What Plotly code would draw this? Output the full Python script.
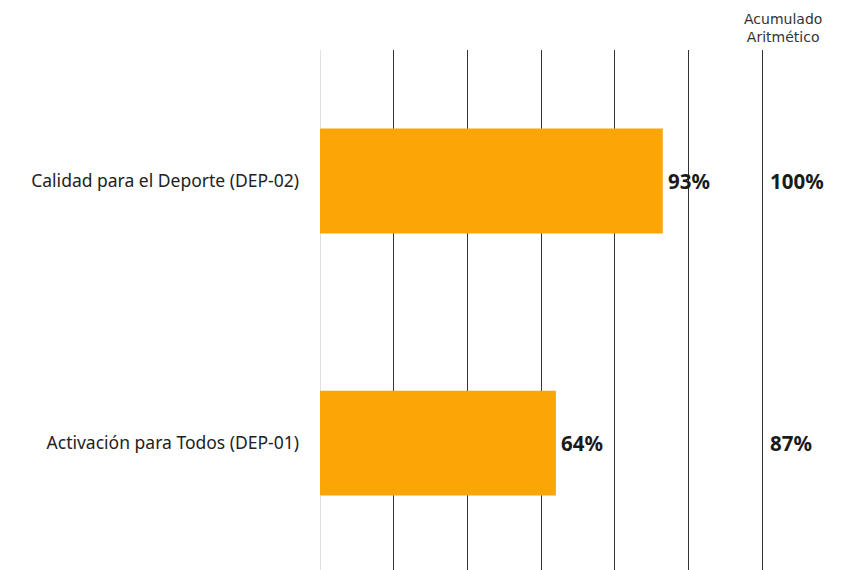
import plotly.graph_objects as go

categories = ["Activación para Todos (DEP-01)", "Calidad para el Deporte (DEP-02)"]
avance = [64, 93]
acumulado = [87, 100]
header = "Acumulado<br>Aritmético"

fig = go.Figure()
fig.add_trace(go.Bar(
    y=categories, x=avance, orientation="h",
    marker=dict(color="#FBA506", line=dict(width=0)),
    width=0.4, hoverinfo="skip",
))

vfont = dict(family="Noto Sans, Arial", size=20.5, color="#1a1a1a")
for cat, v in zip(categories, avance):
    fig.add_annotation(x=v, y=cat, text=f"<b>{v}%</b>", showarrow=False,
                       xanchor="left", xshift=3, font=vfont)
for cat, v in zip(categories, acumulado):
    fig.add_annotation(x=122, y=cat, text=f"<b>{v}%</b>", showarrow=False,
                       xanchor="left", xshift=-2, font=vfont)

fig.add_annotation(xref="paper", yref="paper", x=(783 - 320) / 516, y=1.0,
                   xanchor="center", yanchor="bottom", yshift=3, text=header,
                   showarrow=False,
                   font=dict(family="DejaVu Sans, Verdana, sans-serif", size=14, color="#333333"),
                   align="center")

fig.update_layout(
    width=850, height=570,
    margin=dict(l=312, r=22, t=42, b=0),
    paper_bgcolor="white", plot_bgcolor="white",
    showlegend=False,
    xaxis=dict(range=[0, 140], tickvals=[0, 20, 40, 60, 80, 100, 120],
               showticklabels=False, showgrid=True, gridcolor="#333333", gridwidth=1,
               zeroline=True, zerolinecolor="#e0e0e0", zerolinewidth=1,
               showline=False),
    yaxis=dict(range=[-0.515, 1.5], showgrid=False, zeroline=False, showline=False,
               ticks="", ticklabelstandoff=20,
               tickfont=dict(family="Noto Sans, Arial", size=17.5, color="#222222")),
)

fig.write_html("out.html")
